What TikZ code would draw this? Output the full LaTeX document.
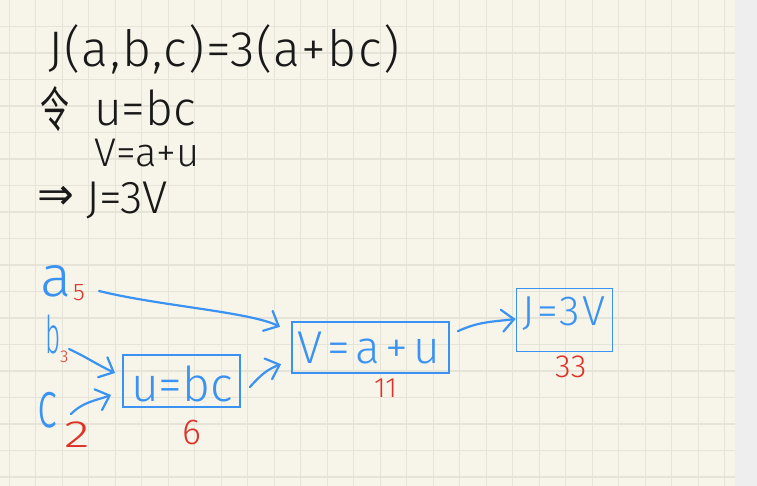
\documentclass[tikz,border=0pt]{standalone}
\usepackage{fontspec}
\setmainfont{Fira Sans}[UprightFont=* Light]
\newfontfamily\cjk{Noto Sans CJK SC}
\newfontfamily\dv{DejaVu Sans}
\usetikzlibrary{arrows.meta,calc}
\definecolor{paper}{RGB}{247,245,233}
\definecolor{gridc}{RGB}{230,228,216}
\definecolor{sidec}{RGB}{238,238,238}
\definecolor{inkc}{RGB}{25,25,25}
\definecolor{bluec}{RGB}{58,146,242}
\definecolor{redc}{RGB}{222,50,40}
\newcommand\fs[1]{\fontsize{#1}{#1}\selectfont}
\newcommand\lspace[1]{\addfontfeature{LetterSpace=#1}}
\tikzset{
  hw/.style={inner sep=0pt, anchor=base west},
  ink/.style={text=inkc},
  bl/.style={text=bluec},
  rd/.style={text=redc},
  box/.style={draw=bluec, line width=1.8pt, inner sep=0pt},
  arr/.style={draw=bluec, line width=2.2pt, line cap=round, line join=round,
    -{Straight Barb[length=12pt,width=22pt,line cap=round]}},
  gridline/.style={draw=gridc, line width=1.3pt},
}
\begin{document}
\begin{tikzpicture}[x=1pt,y=1pt]
\useasboundingbox (0,0) rectangle (757,-486);
% paper and grid
\fill[paper] (0,0) rectangle (735,-486);
\fill[sidec] (735,0) rectangle (757,-486);
\foreach \i in {0,...,27} \draw[gridline] (9.3+26.5*\i,0) -- (9.3+26.5*\i,-486);
\foreach \j in {1,...,18} \draw[gridline] (0,-26.5*\j) -- (735,-26.5*\j);

% black notes
\node[hw,ink] (l1) at (48,-67) {\fs{50}\lspace{3}J(a,b,c)=3(a+bc)};
\node[hw,ink] (ling) at (40,-128) {\fs{36}\cjk\scalebox{0.8}[1.35]{令}};
\node[hw,ink] (l2) at (94,-126) {\fs{48}u=bc};
\node[hw,ink] (l3) at (94,-167) {\fs{40}V=a+u};
\node[hw,ink] (imp) at (37,-210) {\fs{44}\dv ⇒};
\node[hw,ink] (l4) at (86,-214) {\fs{46}J=3V};

% inputs
\node[hw,bl] (a) at (40,-296) {\fs{58}a};
\node[hw,rd] (a5) at (73,-300) {\fs{24}5};
\node[hw,bl] (b) at (45,-353) {\fs{52}\scalebox{0.5}[1]{b}};
\node[hw,rd] (b3) at (60,-362) {\fs{17}3};
\node[hw,bl] (c) at (37,-427) {\fs{66}\scalebox{0.65}[1]{c}};
\node[hw,rd] (c2) at (64,-447) {\fs{38}\scalebox{1.4}[1]{2}};

% boxes
\node[box, minimum width=117pt, minimum height=52pt] (u) at (181.5,-381) {};
\node[hw,bl] (ut) at (131,-401) {\fs{48}u=bc};
\node[hw,rd] (u6) at (182,-444) {\fs{36}6};

\node[box, minimum width=157pt, minimum height=51pt] (V) at (370.5,-347.2) {};
\node[hw,bl] (vt) at (297,-363) {\fs{46}\lspace{12}V=a+u};
\node[hw,rd] (v11) at (374,-397) {\fs{28}11};

\node[box, minimum width=96pt, minimum height=63pt] (J) at (564.5,-320) {};
\node[hw,bl] (jt) at (522,-325) {\fs{42}\lspace{7}J=3V};
\node[hw,rd] (j33) at (555,-377) {\fs{32}33};

% arrows
\draw[arr] ($(a5.base west)+(26,9)$) .. controls +(61,-15) and +(-31,15) .. ($(V.north west)+(-11,-6)$);
\draw[arr] ($(b3.base west)+(9,13)$) to[out=-25,in=155] ($(u.west)+(-7,8)$);
\draw[arr] ($(c.base west)+(34,13)$) to[out=45,in=200] ($(u.west)+(-11,-14)$);
\draw[arr] ($(u.east)+(9,-6)$) to[out=48,in=200] ($(V.west)+(-10,-17)$);
\draw[arr] ($(V.east)+(8,16)$) to[out=25,in=187] ($(J.west)+(0,1)$);
\end{tikzpicture}
\end{document}
